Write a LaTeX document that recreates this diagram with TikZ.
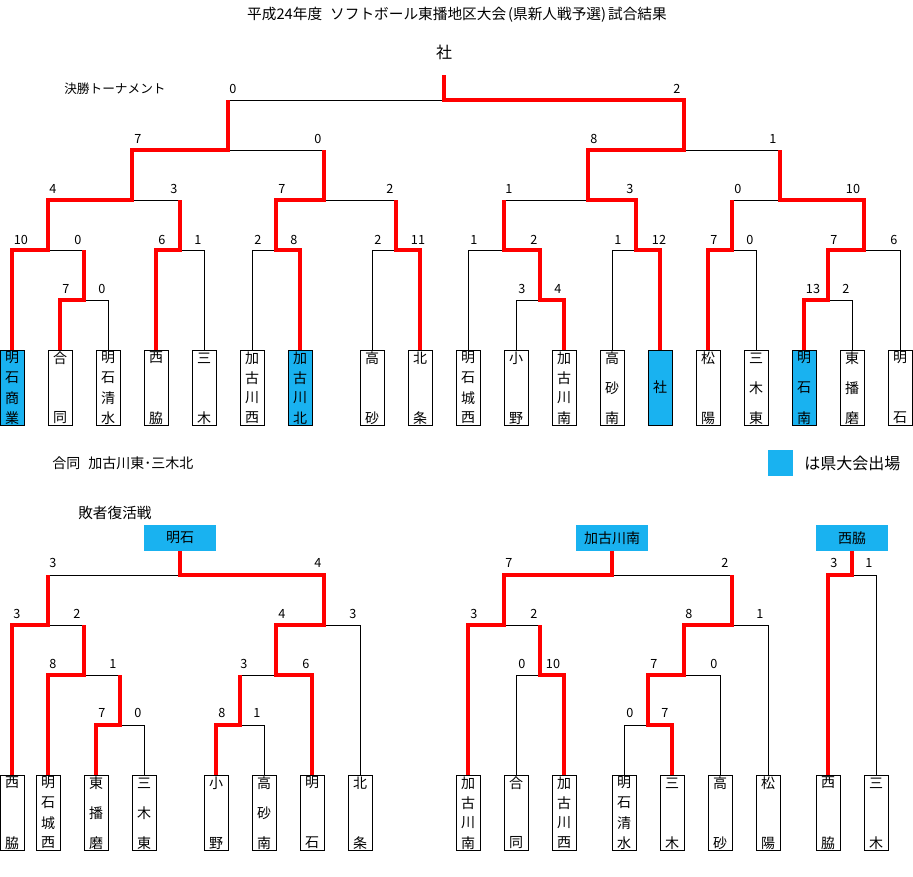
\documentclass[tikz,border=0pt]{standalone}
\usepackage{fontspec}
\setmainfont{Noto Sans CJK JP}
\definecolor{kblue}{RGB}{25,178,240}
\definecolor{kred}{RGB}{255,0,0}
\tikzset{
 tbox/.style={draw=black, line width=0.75pt, minimum width=18pt, minimum height=56.25pt, inner sep=0pt, anchor=north},
 qual/.style={fill=kblue},
 btxt/.style={inner sep=0pt, font=\fontsize{10.5pt}{10.5pt}\selectfont},
 sc/.style={inner sep=0pt, font=\fontsize{9.5pt}{9.5pt}\selectfont},
 lose/.style={draw=black, line width=0.75pt},
 win/.style={draw=kred, line width=2.5pt},
 hdr/.style={fill=kblue, minimum width=54pt, minimum height=19.5pt, inner sep=0pt, font=\fontsize{10.5pt}{10.5pt}\selectfont},
 lbl/.style={inner sep=0pt, anchor=west},
}
\newcommand\team[6]{%
  \node[tbox,#4] (#1) at (#2,#3) {};
  \ifnum#5=1
    \node[btxt] (#1t) at (#2,{#3+37.5}) {#6};
  \else
    \foreach \ch [count=\nn] in {#6} {\node[btxt] (#1t\nn) at (#2,{#3+8+(\nn-1)*60/(#5-1)}) {\ch};}
  \fi}
\begin{document}
\begin{tikzpicture}[x=0.75pt,y=-0.75pt]
\useasboundingbox (0,0) rectangle (913,876);
% texts
\node[inner sep=0pt, font=\fontsize{11pt}{11pt}\selectfont] (title) at (457,15) {平成24年度\hspace{6pt}ソフトボール東播地区大会\hspace{1.5pt}(県新人戦予選)\hspace{1.5pt}試合結果};
\node[inner sep=0pt, font=\fontsize{12pt}{12pt}\selectfont] (champion) at (444,52) {社};
\coordinate (champ) at (444,75);
\node[lbl, font=\fontsize{9.5pt}{9.5pt}\selectfont] (kessho) at (64,89) {決勝トーナメント};
\node[lbl, font=\fontsize{10.5pt}{10.5pt}\selectfont] (godo) at (52,463) {合同\hspace{6pt}加古川東･三木北};
\node[fill=kblue, minimum width=18.75pt, minimum height=19.5pt, inner sep=0pt] (legbox) at (780.5,463) {};
\node[lbl, font=\fontsize{12pt}{12pt}\selectfont] (legtxt) at (804,463) {は県大会出場};
\node[lbl, font=\fontsize{11pt}{11pt}\selectfont] (haisha) at (78,513) {敗者復活戦};
\node[hdr] (q1) at (180,538) {明石};
\node[hdr] (q2) at (612,538) {加古川南};
\node[hdr] (q3) at (852,538) {西脇};
% top teams
\team{b1}{12}{350}{qual}{4}{明,石,商,業}
\team{b2}{60}{350}{}{2}{合,同}
\team{b3}{108}{350}{}{4}{明,石,清,水}
\team{b4}{156}{350}{}{2}{西,脇}
\team{b5}{204}{350}{}{2}{三,木}
\team{b6}{252}{350}{}{4}{加,古,川,西}
\team{b7}{300}{350}{qual}{4}{加,古,川,北}
\team{b8}{372}{350}{}{2}{高,砂}
\team{b9}{420}{350}{}{2}{北,条}
\team{b10}{468}{350}{}{4}{明,石,城,西}
\team{b11}{516}{350}{}{2}{小,野}
\team{b12}{564}{350}{}{4}{加,古,川,南}
\team{b13}{612}{350}{}{3}{高,砂,南}
\team{b14}{660}{350}{qual}{1}{社}
\team{b15}{708}{350}{}{2}{松,陽}
\team{b16}{756}{350}{}{3}{三,木,東}
\team{b17}{804}{350}{qual}{3}{明,石,南}
\team{b18}{852}{350}{}{3}{東,播,磨}
\team{b19}{900}{350}{}{2}{明,石}
% bottom teams
\team{c1}{12}{775}{}{2}{西,脇}
\team{c2}{48}{775}{}{4}{明,石,城,西}
\team{c3}{96}{775}{}{3}{東,播,磨}
\team{c4}{144}{775}{}{3}{三,木,東}
\team{c5}{216}{775}{}{2}{小,野}
\team{c6}{264}{775}{}{3}{高,砂,南}
\team{c7}{312}{775}{}{2}{明,石}
\team{c8}{360}{775}{}{2}{北,条}
\team{d1}{468}{775}{}{4}{加,古,川,南}
\team{d2}{516}{775}{}{2}{合,同}
\team{d3}{564}{775}{}{4}{加,古,川,西}
\team{d4}{624}{775}{}{4}{明,石,清,水}
\team{d5}{672}{775}{}{2}{三,木}
\team{d6}{720}{775}{}{2}{高,砂}
\team{d7}{768}{775}{}{2}{松,陽}
\team{d8}{828}{775}{}{2}{西,脇}
\team{d9}{876}{775}{}{2}{三,木}
% match points (top)
\coordinate (t1) at (84,300);
\coordinate (t2) at (48,250);
\coordinate (t3) at (180,250);
\coordinate (t4) at (132,200);
\coordinate (t5) at (276,250);
\coordinate (t6) at (396,250);
\coordinate (t7) at (324,200);
\coordinate (t8) at (228,150);
\coordinate (t9) at (540,300);
\coordinate (t10) at (504,250);
\coordinate (t11) at (636,250);
\coordinate (t12) at (588,200);
\coordinate (t13) at (732,250);
\coordinate (t14) at (828,300);
\coordinate (t15) at (864,250);
\coordinate (t16) at (780,200);
\coordinate (t17) at (684,150);
\coordinate (t18) at (444,100);
% match points (bottom)
\coordinate (u1) at (120,725);
\coordinate (u2) at (240,725);
\coordinate (u3) at (84,675);
\coordinate (u4) at (276,675);
\coordinate (u5) at (48,625);
\coordinate (u6) at (324,625);
\coordinate (u7) at (180,575);
\coordinate (v1) at (648,725);
\coordinate (v2) at (540,675);
\coordinate (v3) at (684,675);
\coordinate (v4) at (504,625);
\coordinate (v5) at (732,625);
\coordinate (v6) at (612,575);
\coordinate (w1) at (852,575);
% black bracket lines
\draw[lose]
 (b2.north) |- (t1) (b3.north) |- (t1)
 (b1.north) |- (t2) (t1) |- (t2)
 (b4.north) |- (t3) (b5.north) |- (t3)
 (t2) |- (t4) (t3) |- (t4)
 (b6.north) |- (t5) (b7.north) |- (t5)
 (b8.north) |- (t6) (b9.north) |- (t6)
 (t5) |- (t7) (t6) |- (t7)
 (t4) |- (t8) (t7) |- (t8)
 (b11.north) |- (t9) (b12.north) |- (t9)
 (b10.north) |- (t10) (t9) |- (t10)
 (b13.north) |- (t11) (b14.north) |- (t11)
 (t10) |- (t12) (t11) |- (t12)
 (b15.north) |- (t13) (b16.north) |- (t13)
 (b17.north) |- (t14) (b18.north) |- (t14)
 (t14) |- (t15) (b19.north) |- (t15)
 (t13) |- (t16) (t15) |- (t16)
 (t12) |- (t17) (t16) |- (t17)
 (t8) |- (t18) (t17) |- (t18);
\draw[lose]
 (c3.north) |- (u1) (c4.north) |- (u1)
 (c5.north) |- (u2) (c6.north) |- (u2)
 (c2.north) |- (u3) (u1) |- (u3)
 (u2) |- (u4) (c7.north) |- (u4)
 (c1.north) |- (u5) (u3) |- (u5)
 (u4) |- (u6) (c8.north) |- (u6)
 (u5) |- (u7) (u6) |- (u7)
 (d4.north) |- (v1) (d5.north) |- (v1)
 (d2.north) |- (v2) (d3.north) |- (v2)
 (v1) |- (v3) (d6.north) |- (v3)
 (d1.north) |- (v4) (v2) |- (v4)
 (v3) |- (v5) (d7.north) |- (v5)
 (v4) |- (v6) (v5) |- (v6)
 (d8.north) |- (w1) (d9.north) |- (w1);
% red winner paths (top)
\draw[win] (b2.north) |- (t1) -- (t1 |- t2);
\draw[win] (b1.north) |- (t2) |- (t4) |- (t8) -- (t8 |- t18);
\draw[win] (b4.north) |- (t3) -- (t3 |- t4);
\draw[win] (b7.north) |- (t5) |- (t7) -- (t7 |- t8);
\draw[win] (b9.north) |- (t6) -- (t6 |- t7);
\draw[win] (b12.north) |- (t9) |- (t10) -- (t10 |- t12);
\draw[win] (b14.north) |- (t11) |- (t12) |- (t17) |- (t18) -- (champ);
\draw[win] (b15.north) |- (t13) -- (t13 |- t16);
\draw[win] (b17.north) |- (t14) |- (t15) |- (t16) -- (t16 |- t17);
% red winner paths (bottom)
\draw[win] (c3.north) |- (u1) -- (u1 |- u3);
\draw[win] (c5.north) |- (u2) -- (u2 |- u4);
\draw[win] (c2.north) |- (u3) -- (u3 |- u5);
\draw[win] (c1.north) |- (u5) -- (u5 |- u7);
\draw[win] (c7.north) |- (u4) |- (u6) |- (u7) -- (q1.south);
\draw[win] (d5.north) |- (v1) |- (v3) |- (v5) -- (v5 |- v6);
\draw[win] (d3.north) |- (v2) -- (v2 |- v4);
\draw[win] (d1.north) |- (v4) |- (v6) -- (q2.south);
\draw[win] (d8.north) |- (w1) -- (q3.south);
% scores
\foreach \xx/\yy/\ss [count=\nn] in {
 233/89/0, 677/89/2,
 138/139/7, 318/139/0, 594/139/8, 773/139/1,
 53/189/4, 174/189/3, 282/189/7, 390/189/2, 509/189/1, 630/189/3, 738/189/0, 853/189/10,
 21/240/10, 78/240/0, 162/240/6, 198/240/1, 258/240/2, 294/240/8, 378/240/2, 418/240/11,
 474/240/1, 534/240/2, 618/240/1, 659/240/12, 714/240/7, 750/240/0, 834/240/7, 894/240/6,
 66/289/7, 102/289/0, 522/289/3, 558/289/4, 813/289/13, 846/289/2,
 53/563/3, 318/563/4, 509/563/7, 725/563/2, 834/563/3, 869/563/1,
 17/614/3, 77/614/2, 282/614/4, 353/614/3, 474/614/3, 534/614/2, 689/614/8, 760/614/1,
 53/664/8, 113/664/1, 244/664/3, 306/664/6, 522/664/0, 553/664/10, 654/664/7, 714/664/0,
 102/713/7, 138/713/0, 222/713/8, 257/713/1, 630/713/0, 665/713/7}
 {\node[sc] (sc\nn) at (\xx,\yy) {\ss};}
\end{tikzpicture}
\end{document}
